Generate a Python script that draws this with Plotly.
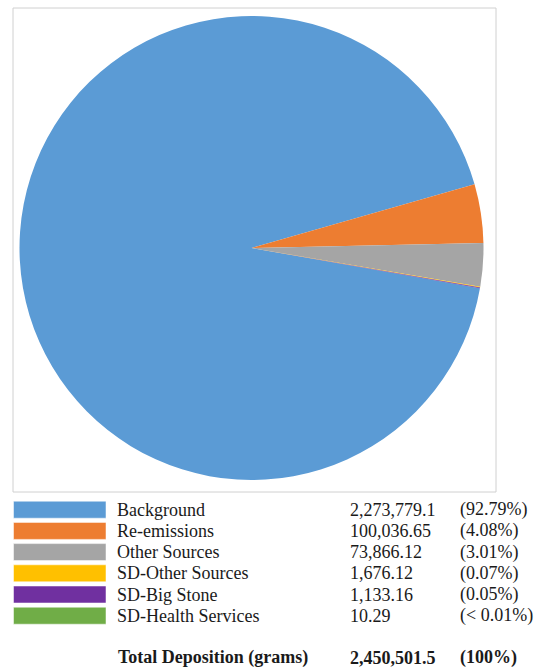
import plotly.graph_objects as go

# Deposition by source (grams)
sources = ["Background", "Re-emissions", "Other Sources",
           "SD-Other Sources", "SD-Big Stone", "SD-Health Services"]
deposition = [2273779.1, 100036.65, 73866.12, 1676.12, 1133.16, 10.29]
total_deposition = 2450501.5
colors = ["#5B9BD5", "#ED7D31", "#A5A5A5", "#FFC000", "#7030A0", "#70AD47"]

W, H = 550, 670
FONT = "Liberation Serif, Times New Roman, serif"


def fmt_value(v):
    s = f"{v:,.2f}"
    if s.endswith("0"):
        s = s[:-1]
    return s


def fmt_pct(v, tot):
    p = v / tot * 100
    if p < 0.01:
        return "(< 0.01%)"
    return f"({p:.2f}%)"


def px(x):
    return x / W


def py(y):
    return 1 - y / H


fig = go.Figure()
fig.add_trace(go.Pie(
    labels=sources,
    values=deposition,
    marker=dict(colors=colors, line=dict(width=0)),
    sort=False,
    direction="clockwise",
    rotation=100,
    textinfo="none",
    hoverinfo="label+value+percent",
    showlegend=False,
    domain=dict(x=[px(19), px(484)], y=[py(480), py(16)]),
))

shapes = [dict(type="rect", xref="paper", yref="paper",
               x0=px(13), x1=px(496), y0=py(492), y1=py(8),
               line=dict(color="#D0D0D0", width=1), fillcolor="rgba(0,0,0,0)")]
annotations = []

# legend table: swatch, source name, deposition, share
cols = (115, 348, 458)
row0, pitch = 509.7, 21.2
for i, (name, val, col) in enumerate(zip(sources, deposition, colors)):
    yc = row0 + pitch * i
    shapes.append(dict(type="rect", xref="paper", yref="paper",
                       x0=px(13.5), x1=px(106), y0=py(yc + 8.5), y1=py(yc - 8.5),
                       line=dict(color="rgba(255,255,255,0.5)", width=1), fillcolor=col))
    for x, txt in zip(cols, (name, fmt_value(val), fmt_pct(val, total_deposition))):
        annotations.append(dict(x=px(x), y=py(yc), xref="paper", yref="paper",
                                text=txt, showarrow=False, xanchor="left", yanchor="middle",
                                font=dict(family=FONT, size=18, color="#1a1a1a")))

# total row
for x, txt in zip((116, 348, 458), ("Total Deposition (grams)",
                                    fmt_value(total_deposition), "(100%)")):
    annotations.append(dict(x=px(x), y=0, xref="paper", yref="paper",
                            text=f"<b>{txt}</b>", showarrow=False, xanchor="left",
                            yanchor="bottom",
                            font=dict(family=FONT, size=18, color="#1a1a1a")))

fig.update_layout(
    width=W, height=H, autosize=False,
    margin=dict(l=0, r=0, t=0, b=0),
    paper_bgcolor="white", plot_bgcolor="white",
    shapes=shapes, annotations=annotations,
)

fig.write_html("out.html")
